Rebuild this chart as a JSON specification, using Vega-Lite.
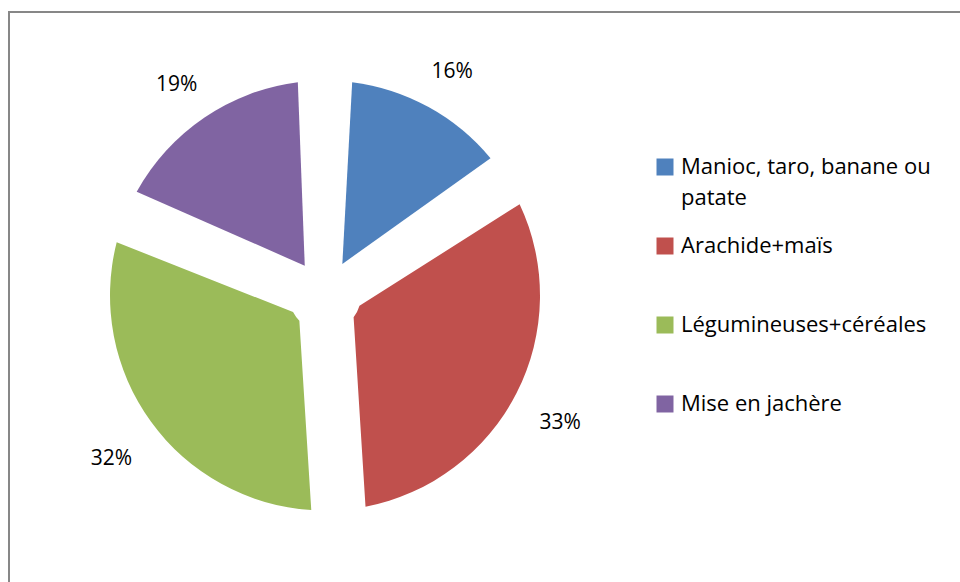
{
  "$schema": "https://vega.github.io/schema/vega-lite/v6.json",
  "width": 956,
  "height": 575,
  "autosize": {"type": "none"},
  "padding": {"left": 9, "top": 12, "right": 0, "bottom": 0},
  "background": "white",
  "view": {"stroke": "#878787", "strokeWidth": 2},
  "config": {
    "view": {"stroke": "#878787", "strokeWidth": 2},
    "font": "Open Sans",
    "style": {"guide-label": {"lineHeight": 31}}
  },
  "data": {"values": [
    {"culture": "Manioc, taro, banane ou patate", "part": 0.16, "rang": 1},
    {"culture": "Arachide+maïs", "part": 0.33, "rang": 2},
    {"culture": "Légumineuses+céréales", "part": 0.32, "rang": 3},
    {"culture": "Mise en jachère", "part": 0.19, "rang": 4}
  ]},
  "encoding": {
    "theta": {"field": "part", "type": "quantitative", "stack": true},
    "order": {"field": "rang", "type": "quantitative"}
  },
  "layer": [
    {
      "mark": {"type": "arc", "outerRadius": 215, "innerRadius": 36, "padAngle": 0.25, "xOffset": -162, "yOffset": -4},
      "encoding": {
        "color": {
          "field": "culture",
          "type": "nominal",
          "sort": ["Manioc, taro, banane ou patate", "Arachide+maïs", "Légumineuses+céréales", "Mise en jachère"],
          "scale": {
            "domain": ["Manioc, taro, banane ou patate", "Arachide+maïs", "Légumineuses+céréales", "Mise en jachère"],
            "range": ["#4F81BD", "#C0504D", "#9BBB59", "#8064A2"]
          },
          "legend": {
            "orient": "none",
            "legendX": 645,
            "legendY": 144,
            "title": null,
            "symbolType": "square",
            "symbolSize": 289,
            "symbolStrokeWidth": 0,
            "labelFont": "Open Sans",
            "labelFontSize": 22,
            "labelColor": "#000000",
            "labelLimit": 400,
            "labelOffset": 5,
            "gridAlign": "all",
            "rowPadding": 26,
            "labelExpr": "datum.label == 'Manioc, taro, banane ou patate' ? ['Manioc, taro, banane ou', 'patate'] : datum.label"
          }
        }
      }
    },
    {
      "mark": {"type": "text", "radius": 264, "fontSize": 21, "font": "Open Sans", "color": "#000000", "xOffset": -162, "yOffset": 4},
      "encoding": {
        "text": {"field": "part", "type": "quantitative", "format": ".0%"}
      }
    }
  ]
}
